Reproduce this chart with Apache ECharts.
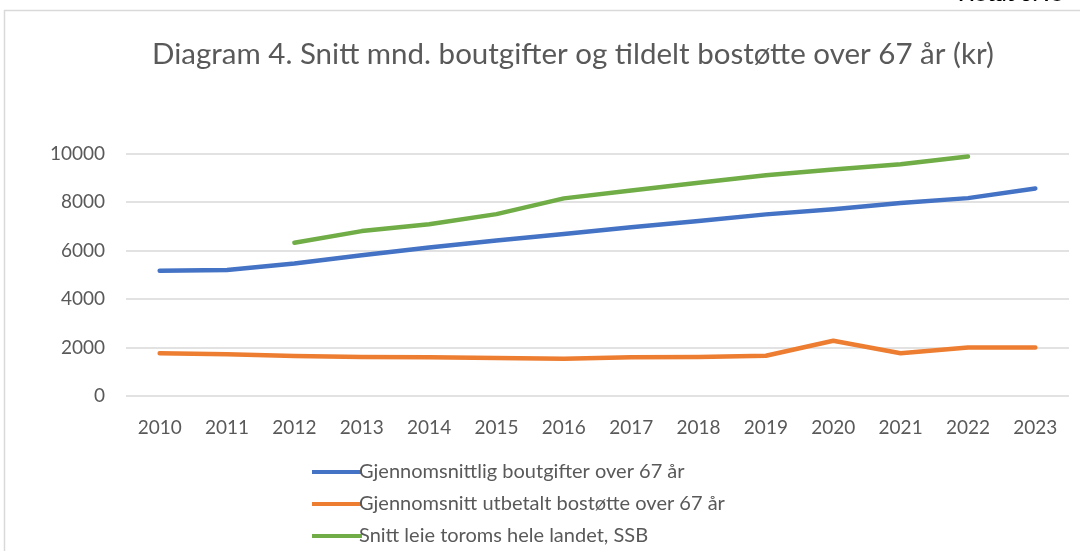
<!DOCTYPE html>
<html>
<head>
<meta charset="utf-8">
<script src="https://cdn.jsdelivr.net/npm/echarts@6/dist/echarts.min.js"></script>
<style>
  html, body { margin: 0; padding: 0; background: #fff; }
  #main { width: 1080px; height: 551px; }
</style>
</head>
<body>
<div id="main"></div>
<script>
// data
var years = ['2010', '2011', '2012', '2013', '2014', '2015', '2016', '2017', '2018', '2019', '2020', '2021', '2022', '2023'];
var boutgifter = [5170, 5200, 5460, 5800, 6120, 6410, 6680, 6960, 7220, 7490, 7700, 7960, 8160, 8560];
var bostotte = [1760, 1720, 1650, 1610, 1600, 1570, 1540, 1600, 1610, 1660, 2280, 1760, 2000, 2000];
var leieSSB = [null, null, 6320, 6800, 7080, 7500, 8150, 8470, 8790, 9100, 9340, 9560, 9880, null];
var seriesNames = [
  'Gjennomsnittlig boutgifter over 67 år',
  'Gjennomsnitt utbetalt bostøtte over 67 år',
  'Snitt leie toroms hele landet, SSB'
];

var font = 'Lato, "Open Sans", sans-serif';
var myChart = echarts.init(document.getElementById('main'));

function line(name, data, color) {
  return {
    name: name,
    type: 'line',
    data: data,
    symbol: 'none',
    lineStyle: { width: 4.5, color: color, cap: 'round', join: 'round' },
    itemStyle: { color: color },
    connectNulls: false
  };
}

var option = {
  animation: false,
  textStyle: { fontFamily: font },
  title: {
    text: 'Diagram 4. Snitt mnd. boutgifter og tildelt bostøtte over 67 år (kr)',
    left: 568,
    textAlign: 'center',
    top: 34,
    textStyle: { fontSize: 29.5, fontWeight: 'normal', color: '#595959', fontFamily: font }
  },
  graphic: [
    {
      type: 'rect',
      shape: { x: 4.5, y: 10.5, width: 1200, height: 600 },
      style: { fill: 'none', stroke: '#d9d9d9', lineWidth: 1.5 }
    },
    {
      type: 'text',
      left: 958,
      top: -17,
      style: { text: 'Notat 3. fo', font: 'bold 22px ' + font, fill: '#000' }
    }
  ],
  legend: {
    orient: 'vertical',
    left: 312,
    top: 462,
    padding: 0,
    itemWidth: 50,
    itemHeight: 4,
    itemGap: 12,
    icon: 'rect',
    data: seriesNames,
    textStyle: { fontSize: 20, color: '#595959', padding: [0, 0, 0, -8] }
  },
  grid: { left: 126, right: 11, top: 153.5, bottom: 155 },
  xAxis: {
    type: 'category',
    data: years,
    boundaryGap: true,
    axisLine: { show: false },
    axisTick: { show: false },
    axisLabel: { fontSize: 19, color: '#595959', margin: 22 }
  },
  yAxis: {
    type: 'value',
    min: 0,
    max: 10000,
    interval: 2000,
    axisLine: { show: false },
    axisTick: { show: false },
    splitLine: { lineStyle: { color: '#d9d9d9', width: 1.5 } },
    axisLabel: {
      fontSize: 19, color: '#595959', margin: 21,
      formatter: function (v) { return String(v); }
    }
  },
  series: [
    line(seriesNames[0], boutgifter, '#4472C4'),
    line(seriesNames[1], bostotte, '#ED7D31'),
    line(seriesNames[2], leieSSB, '#70AD47')
  ]
};
myChart.setOption(option);
</script>
</body>
</html>
